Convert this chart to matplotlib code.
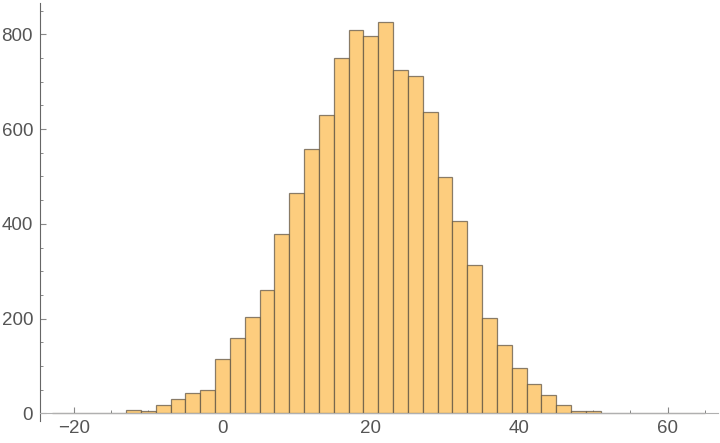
import matplotlib
matplotlib.use("Agg")
import matplotlib.pyplot as plt
from matplotlib.ticker import MultipleLocator
import numpy as np

# Histogram data: bin centers (width 2) and counts
bin_centers = list(range(-22, 66, 2))
counts = [1, 0, 0, 0, 1, 8, 5, 18, 31, 43, 50,
          115, 160, 204, 261, 379, 466, 558, 629, 750, 810,
          796, 826, 724, 712, 635, 499, 406, 314, 202, 144,
          95, 62, 38, 18, 6, 5, 1, 1, 1, 0, 0, 0, 1]
bin_width = 2
x_ticks = [-20, 0, 20, 40, 60]
y_ticks = [0, 200, 400, 600, 800]

plt.rcParams['font.family'] = ['Liberation Sans', 'DejaVu Sans']

fig = plt.figure(figsize=(7.2, 4.43), dpi=100)
ax = fig.add_axes([40/720, 22/443, 678/720, 418/443])

ax.bar(bin_centers, counts, width=bin_width, color='#fdcd7e',
       edgecolor=(0.35, 0.31, 0.25, 0.7), linewidth=0.9, zorder=2)

ax.set_xlim(-24.6, 66.8)
ax.set_ylim(-16, 866)

for s in ['top', 'right']:
    ax.spines[s].set_visible(False)
ax.spines['bottom'].set_position(('data', 0))
ax.spines['bottom'].set_color('#b0b0b0')
ax.spines['bottom'].set_zorder(3)
ax.spines['left'].set_color('#666666')

ax.set_xticks(x_ticks)
ax.set_yticks(y_ticks)
ax.xaxis.set_minor_locator(MultipleLocator(5))
ax.yaxis.set_minor_locator(MultipleLocator(50))
ax.tick_params(axis='both', which='major', direction='in', length=4,
               width=0.8, color='#888888', labelsize=13.5, labelcolor='#555555')
ax.tick_params(axis='both', which='minor', direction='in', length=2.5,
               width=0.7, color='#888888')
ax.tick_params(axis='x', which='major', pad=5)
ax.tick_params(axis='y', which='major', pad=5)
ax.set_xticklabels(['\u221220', '0', '20', '40', '60'])

fig.savefig('out.png', dpi=100)
